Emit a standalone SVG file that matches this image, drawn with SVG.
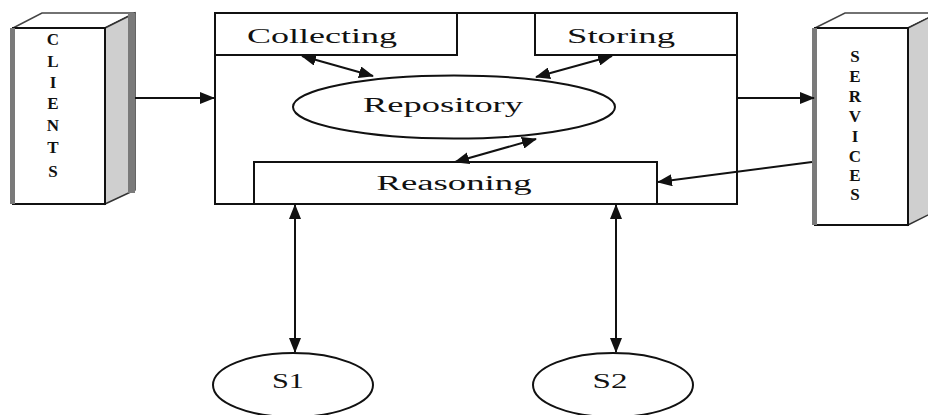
<svg xmlns="http://www.w3.org/2000/svg" width="928" height="415" viewBox="0 0 928 415">
<style>
.box{fill:#fff;stroke:#111;stroke-width:2}
.side{fill:#cfcfcf;stroke:#333;stroke-width:1.5}
.top{fill:#fff;stroke:#444;stroke-width:1.5}
.stripe{fill:#7a7a7a}
.lbl{font-family:"Liberation Serif",serif;font-size:20px;fill:#111;text-anchor:middle}
.vl{font-family:"Liberation Serif",serif;font-size:17px;font-weight:bold;fill:#111;text-anchor:middle}
.ln{stroke:#111;stroke-width:2;fill:none}
</style>
<defs>
<marker id="ah" viewBox="0 0 15 12" refX="14" refY="6" markerWidth="15" markerHeight="12" markerUnits="userSpaceOnUse" orient="auto-start-reverse">
<path d="M0,0 L15,6 L0,12 Z" fill="#111"/>
</marker>
</defs>
<rect width="928" height="415" fill="#fff"/>
<g id="clients">
<polygon class="top" points="13,28 42,13 135,13 105,28"/>
<polygon class="side" points="105,28 135,13 135,190 105,204"/>
<rect class="stripe" x="128" y="13" width="7" height="180"/>
<rect class="box" x="13" y="28" width="92" height="176"/>
<rect class="stripe" x="10" y="28" width="5" height="176"/>
<text class="vl" x="53" y="45">C</text>
<text class="vl" x="53" y="67">L</text>
<text class="vl" x="53" y="88">I</text>
<text class="vl" x="53" y="109">E</text>
<text class="vl" x="53" y="131">N</text>
<text class="vl" x="53" y="153">T</text>
<text class="vl" x="53" y="177">S</text>
</g>
<g id="services">
<polygon class="top" points="815,28 845,13 938,13 908,28"/>
<polygon class="side" points="908,28 938,13 938,210 908,225"/>
<rect class="box" x="815" y="28" width="93" height="197"/>
<rect class="stripe" x="812" y="28" width="5" height="197"/>
<text class="vl" x="855" y="62">S</text>
<text class="vl" x="855" y="82">E</text>
<text class="vl" x="855" y="102">R</text>
<text class="vl" x="855" y="122">V</text>
<text class="vl" x="855" y="142">I</text>
<text class="vl" x="855" y="162">C</text>
<text class="vl" x="855" y="181">E</text>
<text class="vl" x="855" y="200">S</text>
</g>
<g id="system">
<rect class="box" x="215" y="13" width="522" height="191"/>
</g>
<g id="collecting">
<rect class="box" x="215" y="13" width="242" height="42"/>
<text class="lbl" x="322" y="43" textLength="150" lengthAdjust="spacingAndGlyphs">Collecting</text>
</g>
<g id="storing">
<rect class="box" x="535" y="13" width="202" height="42"/>
<text class="lbl" x="621" y="43" textLength="108" lengthAdjust="spacingAndGlyphs">Storing</text>
</g>
<g id="repository">
<ellipse class="box" cx="454" cy="107" rx="161" ry="31.5" stroke-width="1.5"/>
<text class="lbl" x="443" y="112" textLength="160" lengthAdjust="spacingAndGlyphs">Repository</text>
</g>
<g id="reasoning">
<rect class="box" x="254" y="162" width="403" height="42"/>
<text class="lbl" x="454" y="190" textLength="155" lengthAdjust="spacingAndGlyphs">Reasoning</text>
</g>
<g id="s1">
<ellipse class="box" cx="293" cy="385" rx="80" ry="32" stroke-width="1.5"/>
<text class="lbl" x="288" y="388" textLength="32" lengthAdjust="spacingAndGlyphs">S1</text>
</g>
<g id="s2">
<ellipse class="box" cx="613" cy="385" rx="80" ry="32" stroke-width="1.5"/>
<text class="lbl" x="610" y="388" textLength="35" lengthAdjust="spacingAndGlyphs">S2</text>
</g>
<g id="connectors">
<line class="ln" x1="135" y1="98" x2="214" y2="98" marker-end="url(#ah)" stroke-width="1.5"/>
<line class="ln" x1="737" y1="98" x2="814" y2="98" marker-end="url(#ah)" stroke-width="1.5"/>
<line class="ln" x1="812" y1="162" x2="658" y2="182" marker-end="url(#ah)" stroke-width="1.5"/>
<line class="ln" x1="302" y1="56" x2="373" y2="76" marker-start="url(#ah)" marker-end="url(#ah)"/>
<line class="ln" x1="612" y1="56" x2="536" y2="77" marker-start="url(#ah)" marker-end="url(#ah)"/>
<line class="ln" x1="536" y1="139" x2="455" y2="162" marker-start="url(#ah)" marker-end="url(#ah)"/>
<line class="ln" x1="295" y1="205" x2="295" y2="352" marker-start="url(#ah)" marker-end="url(#ah)"/>
<line class="ln" x1="616" y1="205" x2="616" y2="352" marker-start="url(#ah)" marker-end="url(#ah)"/>
</g>
</svg>
